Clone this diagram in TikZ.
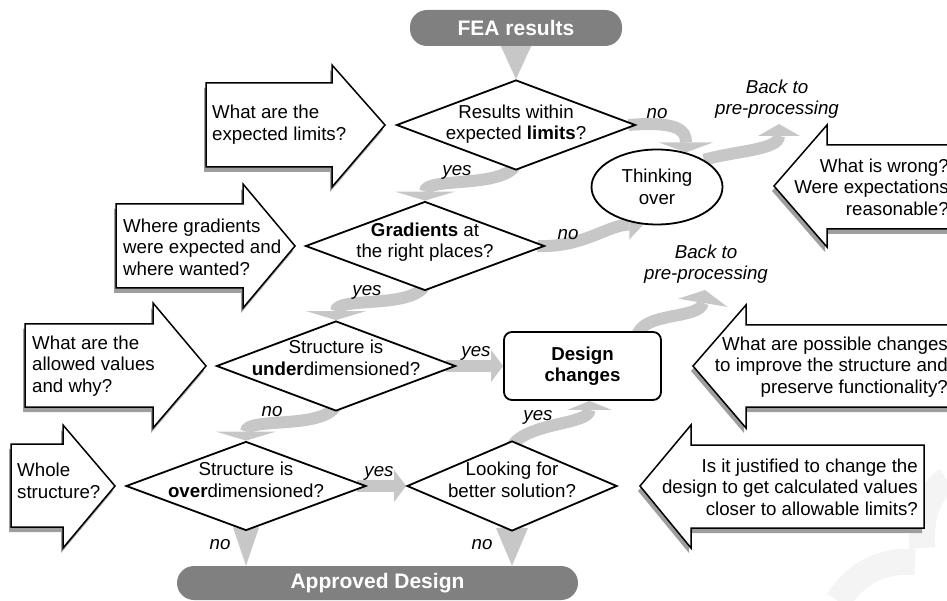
\documentclass[tikz,border=0pt]{standalone}
\usepackage{fontspec}
\setmainfont{Liberation Sans}
\usepackage{tikz}
\usetikzlibrary{positioning}
\usetikzlibrary{shapes.geometric,arrows.meta,backgrounds}

\definecolor{flowgray}{gray}{0.78}
\definecolor{pillgray}{gray}{0.5}
\definecolor{shadowgray}{gray}{0.62}
\definecolor{markgray}{gray}{0.955}

\newcommand{\qfont}{\fontsize{18.7}{21.5}\selectfont}
\newcommand{\pillfont}{\fontsize{21}{24}\selectfont\bfseries}

\newcommand{\blockarrow}[8]{%
	\fill[shadowgray,shift={(-2,5)}] (#1,#4)--(#2,#4)--(#2,#6)--(#3,#8)--(#2,#7)--(#2,#5)--(#1,#5)--cycle;
	\draw[line width=1.5pt,fill=white,line join=miter] (#1,#4)--(#2,#4)--(#2,#6)--(#3,#8)--(#2,#7)--(#2,#5)--(#1,#5)--cycle;}

\tikzset{
	decision/.style={diamond,draw,line width=1.8pt,fill=white,inner sep=0pt},
	pill/.style={rounded corners=17pt,fill=pillgray,text=white,font=\pillfont,inner sep=0pt},
	qtext/.style={inner sep=0pt,font=\qfont},
	answer/.style={inner sep=0pt,font=\qfont\itshape},
	flow/.style={draw=flowgray,line width=12pt},
	flowhead/.style 2 args={-{Triangle[width=#1,length=#2,line width=0pt]}},
	wedge/.style={fill=flowgray}
}

\begin{document}
\begin{tikzpicture}[x=1pt,y=-1pt]
	\useasboundingbox (0,0) rectangle (947,601);

	\node[pill,minimum width=212pt,minimum height=36pt] (fea) at (516,28) {FEA results};
	\node[pill,minimum width=401pt,minimum height=34pt] (ap) at (377.5,583) {Approved Design};

	\node[decision,minimum width=239pt,minimum height=90pt] (d1) at (516,125) {};
	\node[decision,minimum width=239pt,minimum height=89pt] (d2) at (425,246) {};
	\node[decision,minimum width=239pt,minimum height=90pt] (d3) at (336,366) {};
	\node[decision,minimum width=240pt,minimum height=89pt] (d4) at (246,486) {};
	\node[decision,minimum width=210pt,minimum height=90pt] (d5) at (512,486) {};
	\node[qtext,align=center] (d1t) at (516,124) {Results within\\expected \textbf{limits}?};
	\node[qtext,align=center] (d2t) at (425,242) {\textbf{Gradients} at\\the right places?};
	\node[qtext,align=center] (d3t) at (336,358) {Structure is\\\textbf{under}dimensioned?};
	\node[qtext,align=center] (d4t) at (246,480) {Structure is\\\textbf{over}dimensioned?};
	\node[qtext,align=center] (d5t) at (512,480) {Looking for\\better solution?};

	\node[ellipse,draw,line width=1.8pt,fill=white,minimum width=131pt,minimum height=75pt,inner sep=0pt,qtext,align=center] (th) at (657,187) {Thinking\\over};
	\node[draw,rounded corners=8pt,line width=1.8pt,fill=white,minimum width=157pt,minimum height=68pt,inner sep=0pt,font=\qfont\bfseries,align=center] (dc) at (582.5,366) {Design\\changes};

	\blockarrow{206}{332}{385}{83}{167}{65}{187}{125}
	\blockarrow{116}{243}{295}{204}{288}{184}{308}{246}
	\blockarrow{25}{153}{206}{324}{407}{303}{428}{366}
	\blockarrow{11}{63}{115}{444}{527}{425}{548}{486}
	\blockarrow{955}{827}{774}{145}{229}{125}{247}{186}
	\blockarrow{955}{746}{693}{325}{407}{305}{428}{366}
	\blockarrow{924}{691}{640}{445}{528}{425}{548}{486}

	\node[qtext,anchor=west,align=left] (a1t) at (212,124.5) {What are the\\expected limits?};
	\node[qtext,anchor=west,align=left] (a2t) at (123,247) {Where gradients\\were expected and\\where wanted?};
	\node[qtext,anchor=west,align=left] (a3t) at (32,366) {What are the\\allowed values\\and why?};
	\node[qtext,anchor=west,align=left] (a4t) at (17,481) {Whole\\structure?};
	\node[qtext,anchor=east,align=right] (b1t) at (949,187) {What is wrong?\\Were expectations\\reasonable?};
	\node[qtext,anchor=east,align=right] (b2t) at (948,367) {What are possible changes\\to improve the structure and\\preserve functionality?};
	\node[qtext,anchor=east,align=right] (b3t) at (918,487) {Is it justified to change the\\design to get calculated values\\closer to allowable limits?};

	\node[answer] (yes1) at (457,172) {yes};
	\node[answer] (no1) at (657,114) {no};
	\node[answer] (yes2) at (367,292) {yes};
	\node[answer] (no2) at (568,235) {no};
	\node[answer] (yes3) at (476,353) {yes};
	\node[answer] (no3) at (272,412) {no};
	\node[answer] (yes4) at (379,473) {yes};
	\node[answer] (yes5) at (538,417) {yes};
	\node[answer] (no4) at (220,545) {no};
	\node[answer] (no5) at (482,545) {no};
	\node[answer,align=center] (bp1) at (777,99) {Back to\\pre-processing};
	\node[answer,align=center] (bp2) at (706,264) {Back to\\pre-processing};
	\coordinate (bp1tip) at (779,124);
	\coordinate (bp2tip) at (705,290);

	\begin{scope}[on background layer]
		\draw[markgray,line width=26pt] (838,601) .. controls (858,570) and (885,560) .. (915,562);
		\draw[markgray,line width=26pt] (922,548) .. controls (920,515) and (930,490) .. (947,480);
		\fill[wedge] ([xshift=-17pt,yshift=4pt]fea.south) -- ([xshift=17pt,yshift=4pt]fea.south) -- (d1.north) -- cycle;
		\fill[wedge] ([xshift=-13pt,yshift=4pt]d4.south) -- ([xshift=13pt,yshift=4pt]d4.south) -- (ap.north -| d4.south) -- cycle;
		\fill[wedge] ([xshift=-16pt,yshift=4pt]d5.south) -- ([xshift=16pt,yshift=4pt]d5.south) -- (ap.north -| d5.south) -- cycle;
		\draw[flow,flowhead={60pt}{9pt}] ([yshift=6pt]d1.south) .. controls +(-15,24) and +(0,-24) .. (d2.north);
		\draw[flow,flowhead={60pt}{9pt}] ([yshift=6pt]d2.south) .. controls +(-15,24) and +(0,-24) .. (d3.north);
		\draw[flow,flowhead={60pt}{9pt}] ([yshift=6pt]d3.south) .. controls +(-15,24) and +(0,-24) .. (d4.north);
		\draw[flow,flowhead={32pt}{12pt}] ([xshift=-10pt]d4.east) -- (d5.west);
		\draw[flow,flowhead={32pt}{12pt}] ([xshift=-10pt]d3.east) -- (dc.west);
		\draw[flow,flowhead={44pt}{9pt}] ([yshift=-6pt]d5.north) .. controls +(15,-24) and +(0,24) .. ([xshift=7pt]dc.south);
		\draw[flow,flowhead={50pt}{13pt}] ([xshift=-25pt,yshift=-6pt]dc.north east) .. controls +(4,-26) and +(-5,30) .. (bp2tip);
		\draw[flow,flowhead={54pt}{10pt}] ([xshift=-8pt]d1.east) .. controls +(50,-4) and +(0,-22) .. (th.50);
		\draw[flow,flowhead={42pt}{12pt}] (th.30) .. controls +(31,-9) and +(0,26) .. (bp1tip);
		\draw[flow,flowhead={30pt}{14pt}] ([xshift=-8pt]d2.east) .. controls +(45,2) and +(-35,0) .. (th.250);
	\end{scope}
\end{tikzpicture}
\end{document}
